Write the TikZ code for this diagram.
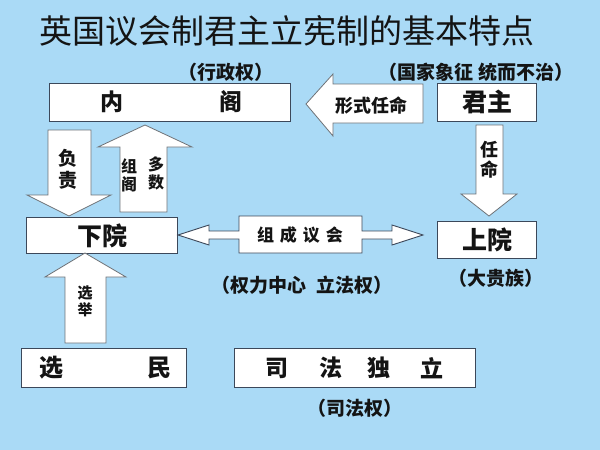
\documentclass[tikz,border=0pt]{standalone}
\usepackage{fontspec}
\setmainfont{Noto Sans CJK SC}
\definecolor{bg}{RGB}{170,218,246}
\definecolor{bx}{RGB}{60,72,90}
\definecolor{ar}{RGB}{110,115,120}
\definecolor{tx}{RGB}{20,20,20}
\newcommand{\fs}[1]{\fontsize{#1}{#1}\selectfont}
\begin{document}
\begin{tikzpicture}[x=1pt,y=-1pt,
  box/.style={draw=bx,fill=white,line width=0.9pt},
  blk/.style={draw=ar,fill=white,line width=0.8pt,line join=miter},
  lbl/.style={text=tx,inner sep=0pt,font=\bfseries},
  note/.style={text=tx,inner sep=0pt,font=\fs{19}\bfseries}]
\fill[bg] (0,0) rectangle (600,450);
\useasboundingbox (0,0) rectangle (600,450);
% title
\node[text=tx,inner sep=0pt,font=\fs{33}] (title) at (287,31) {英国议会制君主立宪制的基本特点};
% boxes
\draw[box] (49,83) rectangle (290,121);
\coordinate (neige) at (169.5,102);
\draw[box] (437,83) rectangle (536,121);
\coordinate (junzhu) at (486.5,102);
\draw[box] (26,217) rectangle (177,253);
\coordinate (xiayuan) at (101.5,235);
\draw[box] (437,221) rectangle (536,258);
\coordinate (shangyuan) at (486.5,239.5);
\draw[box] (21,348) rectangle (186,387);
\coordinate (xuanmin) at (103.5,367.5);
\draw[box] (234,348) rectangle (475,387);
\coordinate (sifa) at (354.5,367.5);
% block arrows
\draw[blk] (306,104) -- (333,74) -- (333,84) -- (423,84) -- (423,123) -- (333,123) -- (333,136) -- cycle;
\draw[blk] (476,125) -- (503,125) -- (503,194) -- (517,194) -- (489,216) -- (461,194) -- (476,194) -- cycle;
\draw[blk] (48,130) -- (91,130) -- (91,195) -- (111,195) -- (69,216) -- (27,195) -- (48,195) -- cycle;
\draw[blk] (145,125) -- (192,147) -- (167,147) -- (167,212) -- (120,212) -- (120,147) -- (98,147) -- cycle;
\draw[blk] (85,253) -- (126,277) -- (106,277) -- (106,343) -- (65,343) -- (65,277) -- (45,277) -- cycle;
\draw[box] (178,235) -- (209,225) -- (209,231) -- (239,231) -- (239,216) -- (362,216) -- (362,231) -- (392,231)
  -- (392,225) -- (423,235) -- (392,245) -- (392,239) -- (362,239) -- (362,253) -- (239,253) -- (239,239)
  -- (209,239) -- (209,245) -- cycle;
% box texts
\node[lbl,font=\fs{23}\bfseries] (nei) at (112,102) {内};
\node[lbl,font=\fs{23}\bfseries] (ge) at (231,102) {阁};
\node[lbl,font=\fs{25}\bfseries] (jz) at (487,102) {君主};
\node[lbl,font=\fs{25}\bfseries] (xy) at (102,236) {下院};
\node[lbl,font=\fs{25}\bfseries] (sy) at (487,240) {上院};
\node[lbl,font=\fs{24}\bfseries] (xuan) at (51,368) {选};
\node[lbl,font=\fs{24}\bfseries] (min) at (159,368) {民};
\node[lbl,font=\fs{23}\bfseries] (si) at (277,368) {司};
\node[lbl,font=\fs{23}\bfseries] (fa) at (331,368) {法};
\node[lbl,font=\fs{23}\bfseries] (du) at (379,368) {独};
\node[lbl,font=\fs{23}\bfseries] (li) at (432,368) {立};
% arrow labels
\node[lbl,font=\fs{18}\bfseries] (xsrm) at (371,106) {形式任命};
\node[lbl,font=\fs{18}\bfseries,align=center] (rm) at (489,160) {任\\[2pt]命};
\node[lbl,font=\fs{19}\bfseries,align=center] (fz) at (68,169) {负\\[3pt]责};
\node[lbl,font=\fs{16}\bfseries,align=center] (zg) at (129,175) {组\\[2pt]阁};
\node[lbl,font=\fs{16}\bfseries,align=center] (ds) at (156,173) {多\\[2pt]数};
\node[lbl,font=\fs{15}\bfseries,align=center] (xj) at (85,301) {选\\[2pt]举};
\node[lbl,font=\fs{17}\bfseries] (zcyh) at (300,235) {组\hspace{6pt}成\hspace{6pt}议\hspace{6pt}会};
% notes
\node[note] (n1) at (226,72) {（行政权）};
\node[note] (n2) at (476,72) {（国家象征\hspace{6pt}统而不治）};
\node[note] (n3) at (496,278) {（大贵族）};
\node[note] (n4) at (302,285) {（权力中心\hspace{10pt}立法权）};
\node[note] (n5) at (355,408) {（司法权）};
\end{tikzpicture}
\end{document}
